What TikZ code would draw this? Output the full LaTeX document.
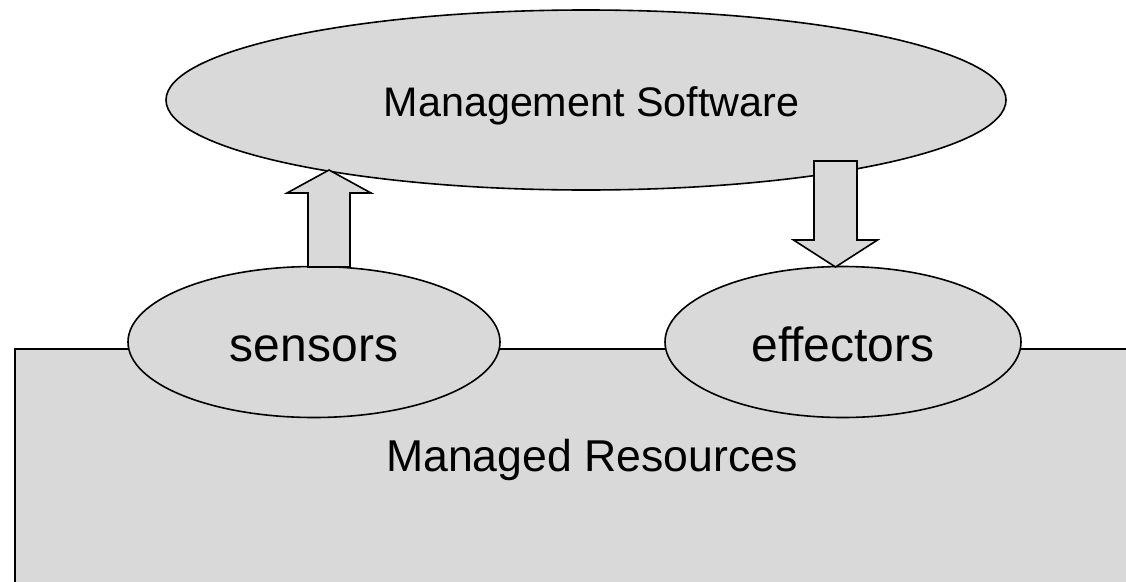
\documentclass[tikz,border=0pt]{standalone}
\usepackage{fontspec}
\setmainfont{Liberation Sans}
\definecolor{boxgray}{HTML}{D9D9D9}
\tikzset{
  shape line/.style={draw=black, line width=1.6pt, fill=boxgray},
  oval/.style={shape line, ellipse, inner sep=0pt},
  lbl/.style={font=\fontsize{48}{56}\selectfont, anchor=base, inner sep=0pt},
  fat arrow/.style={shape line, line join=miter}
}
\usetikzlibrary{shapes.geometric}
\begin{document}
\begin{tikzpicture}[x=1pt,y=-1pt]
\useasboundingbox (0,0) rectangle (1126,581);
\clip (0,0) rectangle (1126,581);
% managed resources block
\draw[shape line] (15,349) rectangle (1140,600);
\node[lbl, font=\fontsize{44.6}{52}\selectfont] (res) at (592,471) {Managed Resources};
% sensors and effectors
\node[oval, minimum width=372, minimum height=151] (sens) at (314,342) {};
\node[lbl] at (314,361) {sensors};
\node[oval, minimum width=356, minimum height=151] (eff) at (843,342) {};
\node[lbl] at (843,361) {effectors};
% management software
\node[oval, minimum width=840, minimum height=180] (mgmt) at (586,100) {};
\node[lbl, font=\fontsize{41.3}{50}\selectfont] at (591.5,116) {Management Software};
% up arrow (sensors -> management)
\coordinate (upbase) at (329,267);
\coordinate (uptip) at (329,170);
\draw[fat arrow] ([xshift=-21pt]upbase) -- ([xshift=-21pt,yshift=74pt]upbase) -- ([xshift=-42pt,yshift=74pt]upbase)
  -- (uptip) -- ([xshift=42pt,yshift=74pt]upbase) -- ([xshift=21pt,yshift=74pt]upbase) -- ([xshift=21pt]upbase) -- cycle;
% down arrow (management -> effectors)
\coordinate (dntop) at (835.5,161);
\coordinate (dntip) at (835.5,267);
\draw[fat arrow] ([xshift=-21.5pt]dntop) -- ([xshift=-21.5pt,yshift=-79pt]dntop) -- ([xshift=-42pt,yshift=-79pt]dntop)
  -- (dntip) -- ([xshift=42pt,yshift=-79pt]dntop) -- ([xshift=21.5pt,yshift=-79pt]dntop) -- ([xshift=21.5pt]dntop) -- cycle;
\end{tikzpicture}
\end{document}
